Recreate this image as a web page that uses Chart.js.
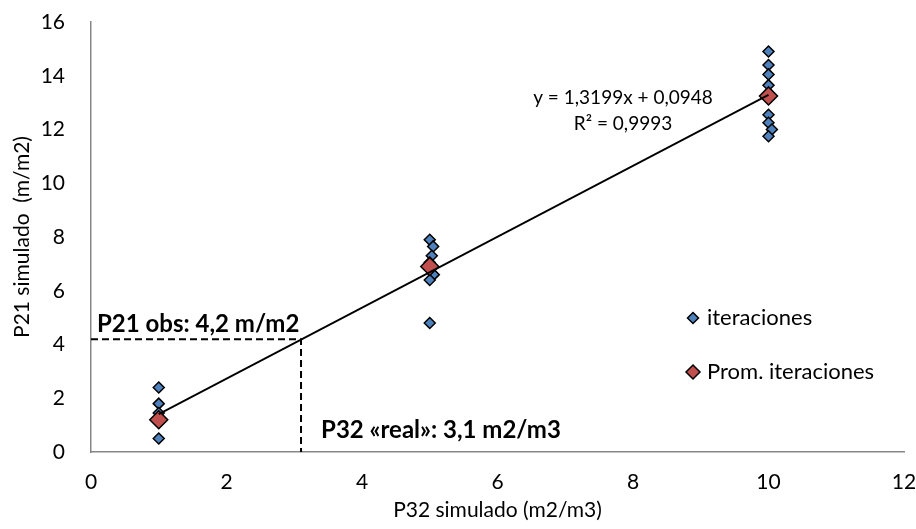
<!DOCTYPE html>
<html>
<head>
<meta charset="utf-8">
<script src="https://cdn.jsdelivr.net/npm/chart.js@4.4.1/dist/chart.umd.min.js"></script>
<style>
  html, body { margin: 0; padding: 0; background: #fff; }
  .chart-container { position: relative; width: 916px; height: 529px; }
</style>
</head>
<body>
<div class="chart-container"><canvas id="p21Chart" width="916" height="529"></canvas></div>
<script>
// iteraciones
const iterX = [1, 1, 1, 1, 1, 1,
               5, 5.05, 5.03, 5, 5.06, 5, 5,
               10, 10, 10, 10, 10, 10, 10.05, 10];
const iterY = [2.4, 1.8, 1.45, 1.25, 1.1, 0.5,
               7.9, 7.65, 7.3, 7.05, 6.6, 6.4, 4.8,
               14.9, 14.4, 14.05, 13.65, 12.55, 12.25, 12.0, 11.75];
// promedio de iteraciones
const promX = [1, 5, 10];
const promY = [1.2, 6.9, 13.25];
// linea de tendencia y = 1,3199x + 0,0948 (from x=1 to x=10)
const trendX = [1, 10];
const trendY = [1.41, 13.29];
// guias P21 obs / P32 real
const obsP21 = 4.2;
const realP32 = 3.1;
const guideX = [0, realP32, realP32];
const guideY = [obsP21, obsP21, 0];
const xTicks = [0, 2, 4, 6, 8, 10, 12];
const yTicks = [0, 2, 4, 6, 8, 10, 12, 14, 16];

const FONT = "Lato";
const toPts = (xs, ys) => xs.map((v, i) => ({ x: v, y: ys[i] }));

const labelsPlugin = {
  id: "labelsPlugin",
  afterDatasetsDraw(chart) {
    const { ctx, scales: { x, y } } = chart;
    ctx.save();
    ctx.fillStyle = "#000";
    ctx.textBaseline = "middle";
    ctx.textAlign = "left";
    ctx.font = "bold 24px " + FONT;
    ctx.fillText("P21 obs: 4,2 m/m2", x.left + 6, y.getPixelForValue(obsP21) - 15);
    ctx.fillText("P32 \u00abreal\u00bb: 3,1 m2/m3", x.getPixelForValue(realP32) + 20, y.bottom - 22);

    ctx.font = "19px " + FONT;
    ctx.textAlign = "center";
    ctx.fillText("y = 1,3199x + 0,0948", 623, 98);
    ctx.fillText("R\u00b2 = 0,9993", 623, 124);

    // legend
    const items = [
      { text: "iteraciones", color: "#4F81BD", r: 5.5, y: 318 },
      { text: "Prom. iteraciones", color: "#C0504D", r: 7, y: 372 },
    ];
    ctx.font = "22px " + FONT;
    ctx.textAlign = "left";
    items.forEach((it) => {
      const cx = 693;
      ctx.beginPath();
      ctx.moveTo(cx - it.r, it.y);
      ctx.lineTo(cx, it.y - it.r);
      ctx.lineTo(cx + it.r, it.y);
      ctx.lineTo(cx, it.y + it.r);
      ctx.closePath();
      ctx.fillStyle = it.color;
      ctx.fill();
      ctx.lineWidth = 1.5;
      ctx.strokeStyle = "#000";
      ctx.stroke();
      ctx.fillStyle = "#000";
      ctx.fillText(it.text, 707, it.y);
    });
    ctx.restore();
  },
};

new Chart(document.getElementById("p21Chart"), {
  type: "scatter",
  data: {
    datasets: [
      {
        label: "Tendencia",
        data: toPts(trendX, trendY),
        showLine: true,
        borderColor: "#000",
        borderWidth: 1.8,
        pointRadius: 0,
        order: 0,
      },
      {
        label: "Prom. iteraciones",
        data: toPts(promX, promY),
        pointStyle: "rectRot",
        pointRadius: 9,
        backgroundColor: "#C0504D",
        borderColor: "#000",
        borderWidth: 1.5,
        order: 1,
      },
      {
        label: "iteraciones",
        data: toPts(iterX, iterY),
        pointStyle: "rectRot",
        pointRadius: 5.5,
        backgroundColor: "#4F81BD",
        borderColor: "#000",
        borderWidth: 1.5,
        order: 2,
      },
      {
        label: "guias",
        data: toPts(guideX, guideY),
        showLine: true,
        borderColor: "#000",
        borderWidth: 2,
        borderDash: [7, 4],
        pointRadius: 0,
        order: 3,
      },
    ],
  },
  options: {
    responsive: false,
    animation: false,
    maintainAspectRatio: false,
    layout: { padding: { top: 22, right: 12, bottom: 0, left: 0 } },
    plugins: {
      legend: { display: false },
      tooltip: { enabled: false },
    },
    scales: {
      x: {
        type: "linear",
        min: xTicks[0],
        max: xTicks[xTicks.length - 1],
        afterFit: (scale) => {
          scale.height = 77;
          scale.paddingLeft = 0;
          scale.paddingRight = 0;
        },
        afterBuildTicks: (scale) => { scale.ticks = xTicks.map((v) => ({ value: v })); },
        grid: { display: false },
        border: { color: "#868686", width: 1.5 },
        ticks: { color: "#000", padding: 10, font: { family: FONT, size: 21 } },
        title: {
          display: true,
          text: "P32 simulado (m2/m3)",
          color: "#000",
          padding: { top: 0, bottom: 6 },
          font: { family: FONT, size: 21 },
        },
      },
      y: {
        type: "linear",
        min: yTicks[0],
        max: yTicks[yTicks.length - 1],
        afterFit: (scale) => {
          scale.width = 91;
          scale.paddingTop = 0;
          scale.paddingBottom = 0;
        },
        afterBuildTicks: (scale) => { scale.ticks = yTicks.map((v) => ({ value: v })); },
        grid: { display: false },
        border: { color: "#868686", width: 1.5 },
        ticks: { color: "#000", padding: 18, font: { family: FONT, size: 21 } },
        title: {
          display: true,
          text: "P21 simulado  (m/m2)",
          color: "#000",
          padding: { top: 10, bottom: 0 },
          font: { family: FONT, size: 21 },
        },
      },
    },
  },
  plugins: [labelsPlugin],
});
</script>
</body>
</html>
